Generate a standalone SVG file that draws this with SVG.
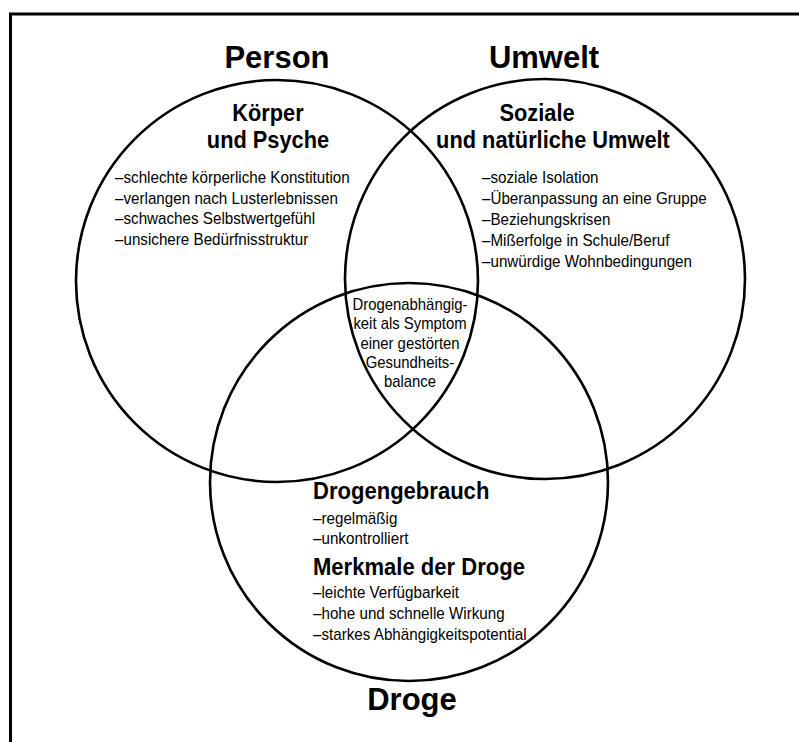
<svg xmlns="http://www.w3.org/2000/svg" width="799" height="742" viewBox="0 0 799 742">
<style>
.c{fill:none;stroke:#000;stroke-width:2.6}
.t{font-family:"Liberation Sans",Arial,Helvetica,sans-serif;fill:#000}
.title{font-size:31px;font-weight:bold}
.h{font-size:24.5px;font-weight:bold}
.b{font-size:16px}
</style>
<rect width="799" height="742" fill="#fff"/>
<path d="M10.5,742V14H799" fill="none" stroke="#000" stroke-width="3"/>
<g id="person">
<circle class="c" cx="277" cy="281" r="201"/>
<text class="t title" x="277" y="68" text-anchor="middle">Person</text>
<g transform="translate(268,0) scale(0.89,1)"><text class="t h" text-anchor="middle"><tspan x="0" y="121">Körper</tspan><tspan x="0" y="148">und Psyche</tspan></text></g>
<g transform="translate(115,0) scale(0.95,1)"><text class="t b"><tspan x="0" y="183">–schlechte körperliche Konstitution</tspan><tspan x="0" y="203.7">–verlangen nach Lusterlebnissen</tspan><tspan x="0" y="224.3">–schwaches Selbstwertgefühl</tspan><tspan x="0" y="245">–unsichere Bedürfnisstruktur</tspan></text></g>
</g>
<g id="umwelt">
<circle class="c" cx="545" cy="279" r="200"/>
<text class="t title" x="544" y="68" text-anchor="middle">Umwelt</text>
<g transform="translate(537,0) scale(0.89,1)"><text class="t h" text-anchor="middle" x="0" y="121">Soziale</text></g>
<g transform="translate(553,0) scale(0.89,1)"><text class="t h" text-anchor="middle" x="0" y="148">und natürliche Umwelt</text></g>
<g transform="translate(482,0) scale(0.95,1)"><text class="t b"><tspan x="0" y="183">–soziale Isolation</tspan><tspan x="0" y="204">–Überanpassung an eine Gruppe</tspan><tspan x="0" y="225">–Beziehungskrisen</tspan><tspan x="0" y="246">–Mißerfolge in Schule/Beruf</tspan><tspan x="0" y="267">–unwürdige Wohnbedingungen</tspan></text></g>
</g>
<g id="droge">
<circle class="c" cx="409" cy="482" r="199"/>
<text class="t title" x="412" y="710" text-anchor="middle">Droge</text>
<g transform="translate(313,0) scale(0.9,1)"><text class="t h"><tspan x="0" y="499">Drogengebrauch</tspan><tspan x="0" y="575">Merkmale der Droge</tspan></text></g>
<g transform="translate(313,0) scale(0.95,1)"><text class="t b"><tspan x="0" y="524">–regelmäßig</tspan><tspan x="0" y="544">–unkontrolliert</tspan><tspan x="0" y="598">–leichte Verfügbarkeit</tspan><tspan x="0" y="619">–hohe und schnelle Wirkung</tspan><tspan x="0" y="640">–starkes Abhängigkeitspotential</tspan></text></g>
</g>
<g id="zentrum">
<g transform="translate(410,0) scale(0.93,1)"><text class="t b" text-anchor="middle"><tspan x="0" y="310">Drogenabhängig-</tspan><tspan x="0" y="329.3">keit als Symptom</tspan><tspan x="0" y="348.6">einer gestörten</tspan><tspan x="0" y="367.9">Gesundheits-</tspan><tspan x="0" y="387.2">balance</tspan></text></g>
</g>
</svg>
